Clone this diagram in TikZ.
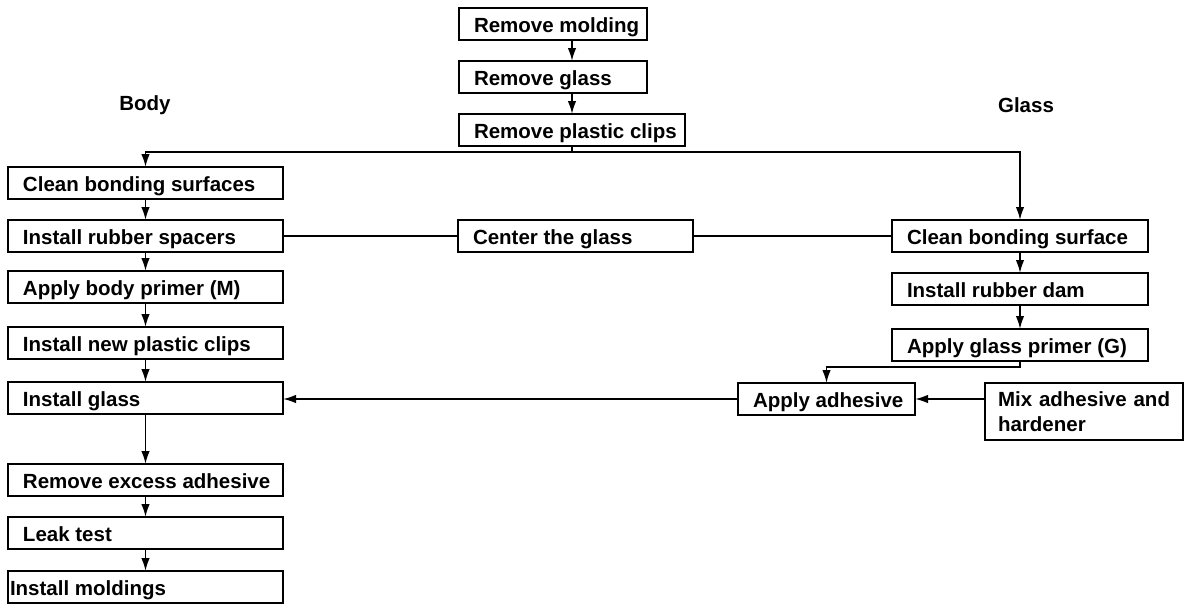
\documentclass[tikz,border=0pt]{standalone}
\usepackage{fontspec}
\setmainfont{Liberation Sans}
\usetikzlibrary{arrows.meta}
\tikzset{
  box/.style={draw, line width=2pt, anchor=north west, outer sep=0pt,
    inner xsep=15pt, inner ysep=0pt, minimum height=32pt},
  stepbox/.style={box, text height=19pt, text depth=2pt,
    execute at begin node={\hbox to #1pt\bgroup\spaceskip=\fontdimen2\font\relax},
    execute at end node={\hfil\egroup}},
  conn/.style={line width=1.8pt},
  arr/.style={conn, -{Latex[length=13pt,width=8.5pt]}},
}
\begin{document}
\begin{tikzpicture}[x=1pt, y=-1pt, font=\fontsize{20.5}{25}\selectfont\bfseries]
    \useasboundingbox (0,0) rectangle (1185,605);
    % Removal
    \node[stepbox=158] (rm) at (459,8) {Remove molding};
    \node[stepbox=158] (rg) at (459,61) {Remove glass};
    \node[stepbox=196] (rpc) at (459,114) {Remove plastic clips};
    \node (body) at (145,105) {Body};
    \node (glass) at (1026,105) {Glass};
    % Body side
    \node[stepbox=245] (cbs) at (8,167) {Clean bonding surfaces};
    \node[stepbox=245] (irs) at (8,220) {Install rubber spacers};
    \node[stepbox=245] (abp) at (8,271) {Apply body primer (M)};
    \node[stepbox=245] (inpc) at (8,327) {Install new plastic clips};
    \node[stepbox=245] (ig) at (8,382) {Install glass};
    \node[stepbox=245] (rea) at (8,464) {Remove excess adhesive};
    \node[stepbox=245] (lt) at (8,517) {Leak test};
    \node[stepbox=271, inner xsep=2pt] (im) at (8,571) {Install moldings};
    \node[stepbox=205] (ctg) at (458,220) {Center the glass};
    % Glass side
    \node[stepbox=226] (cbs2) at (892,220) {Clean bonding surface};
    \node[stepbox=226] (ird) at (892,273) {Install rubber dam};
    \node[stepbox=226] (agp) at (892,329) {Apply glass primer (G)};
    \node[stepbox=147] (aa) at (738,383) {Apply adhesive};
    \node[box, inner xsep=13pt, minimum height=57pt, text width=172pt, align=left] (mix) at (985,383) {\mbox{Mix adhesive and}\\hardener};
    % Connectors
    \draw[arr] (rm.south -| rpc.south) -- (rg.north -| rpc.south);
    \draw[arr] (rg.south -| rpc.south) -- (rpc.north);
    \draw[conn] (rpc.south) -- ++(0,6) coordinate (split);
    \draw[arr] (split) -| (cbs.north);
    \draw[arr] (split) -| (cbs2.north);
    \foreach \a/\b in {cbs/irs, irs/abp, abp/inpc, inpc/ig, ig/rea, rea/lt, lt/im, cbs2/ird, ird/agp}
        \draw[arr] (\a.south) -- (\b.north);
    \draw[conn] (irs.east) -- (ctg.west) (ctg.east) -- (cbs2.west);
    \draw[arr] (agp.south) -- ++(0,6) -| (aa.north);
    \draw[arr] (mix.west |- aa.east) -- (aa.east);
    \draw[arr] (aa.west) -- (ig.east |- aa.west);
\end{tikzpicture}
\end{document}
